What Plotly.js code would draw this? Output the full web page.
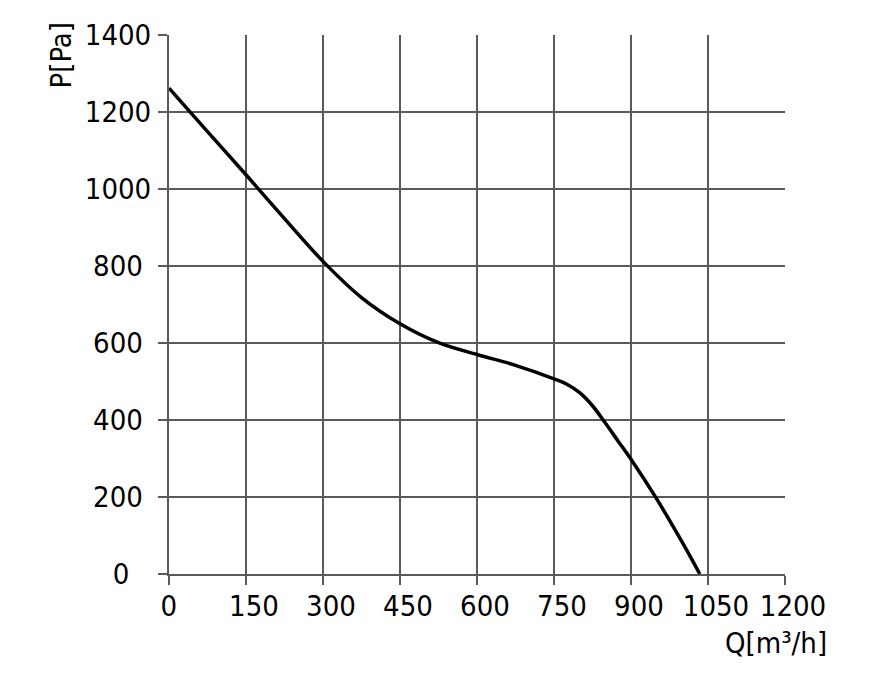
<!DOCTYPE html>
<html>
<head>
<meta charset="utf-8">
<script src="https://cdn.plot.ly/plotly-3.0.1.min.js"></script>
<style>
  html, body { margin: 0; padding: 0; background: #fff; }
  #grafico { width: 875px; height: 673px; }
</style>
</head>
<body>
<div id="grafico"></div>
<script>
// Curva del ventilador: caudal Q [m3/h] contra presión P [Pa]
const caudal = [0, 75, 150, 225, 300, 375, 450, 525, 600, 675, 750, 775, 800, 825, 850, 875, 900, 950, 1000, 1034];
const presion = [1262, 1149, 1037, 923, 812, 718, 650, 601, 570, 542, 507, 493, 471, 437, 392, 345, 298, 195, 82, 0];

const ticksQ = [0, 150, 300, 450, 600, 750, 900, 1050, 1200];
const ticksP = [0, 200, 400, 600, 800, 1000, 1200, 1400];

const FUENTE = '"DejaVu Sans Condensed", "DejaVu Sans", Verdana, sans-serif';
const GRIS_GRILLA = '#5a5a5a';

// En el original las etiquetas del eje P van casi centradas en una columna;
// con espacios de cifra al final se imita eso sobre la alineación a la derecha.
function etiquetaP(v) {
  const s = String(v);
  if (s.length === 1) return s + '\u2007\u2009';
  if (s.length === 3) return s + '\u2008';
  return s;
}
function etiquetaQ(v) {
  return v === 0 ? '0\u2007' : String(v);
}

const curva = {
  x: caudal,
  y: presion,
  type: 'scatter',
  mode: 'lines',
  line: { color: '#000', width: 3.5, shape: 'spline', smoothing: 1 },
  hoverinfo: 'skip',
};

const ejeComun = {
  tickmode: 'array',
  showgrid: true,
  gridcolor: GRIS_GRILLA,
  gridwidth: 2,
  zeroline: false,
  showline: true,
  linecolor: GRIS_GRILLA,
  linewidth: 2,
  ticks: 'outside',
  ticklen: 9,
  tickwidth: 2,
  tickcolor: GRIS_GRILLA,
  tickfont: { family: FUENTE, size: 29, color: '#000' },
  fixedrange: true,
};

const layout = {
  width: 875,
  height: 673,
  // 77 px por división en ambos ejes, para que la grilla caiga en píxeles enteros
  margin: { l: 169, r: 90, t: 35, b: 99 },
  showlegend: false,
  paper_bgcolor: '#fff',
  plot_bgcolor: '#fff',
  font: { family: FUENTE, color: '#000' },
  xaxis: {
    ...ejeComun,
    range: [0, 1200],
    tickvals: ticksQ,
    ticktext: ticksQ.map(etiquetaQ),
    ticklabelshift: 8,
    ticklabelstandoff: -4,
  },
  yaxis: {
    ...ejeComun,
    range: [0, 1400],
    tickvals: ticksP,
    ticktext: ticksP.map(etiquetaP),
    ticklabelstandoff: 1,
  },
  // títulos de eje como anotaciones: en el original van en las esquinas
  annotations: [
    {
      xref: 'paper', yref: 'paper', x: -0.176, y: 0.963,
      text: 'P[Pa]', textangle: -90, showarrow: false,
      xanchor: 'center', yanchor: 'middle',
      font: { family: FUENTE, size: 29, color: '#000' },
    },
    {
      xref: 'paper', yref: 'paper', x: 1.071, y: -0.128,
      text: 'Q[m³/h]', showarrow: false,
      xanchor: 'right', yanchor: 'middle',
      font: { family: FUENTE, size: 29, color: '#000' },
    },
  ],
};

Plotly.newPlot('grafico', [curva], layout, { displayModeBar: false, staticPlot: true });
</script>
</body>
</html>
